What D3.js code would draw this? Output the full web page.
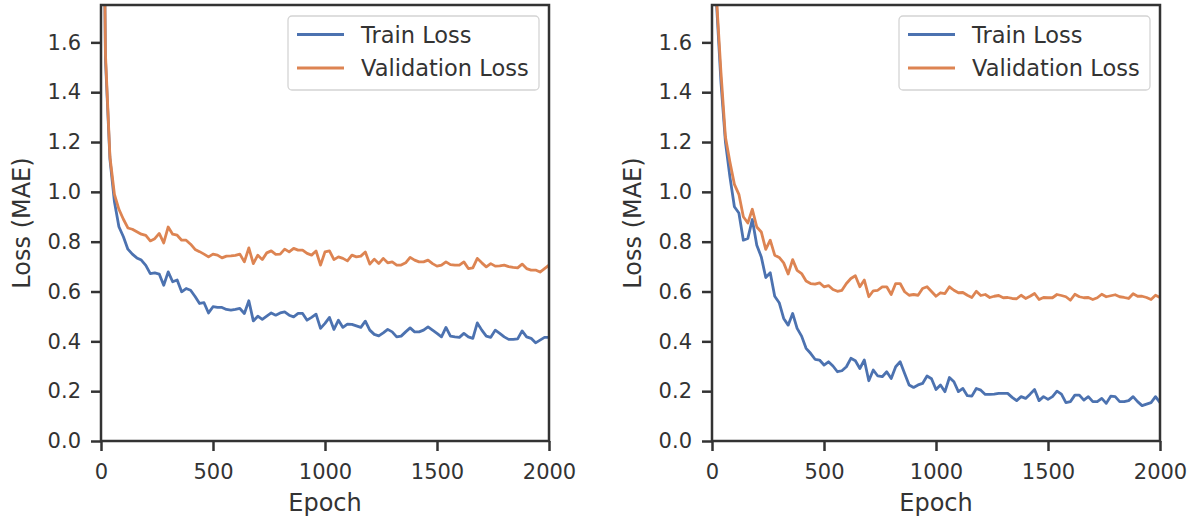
<!DOCTYPE html>
<html>
<head>
<meta charset="utf-8">
<script src="https://cdn.jsdelivr.net/npm/d3@7"></script>
<style>
body { margin: 0; background: #fff; }
svg { font-family: "DejaVu Sans", sans-serif; }
</style>
</head>
<body>
<div id="chart"></div>
<script>
// one logged point every 20 epochs, 0..2000
var epochStep = 20;

var leftTrain = [3.2, 1.53, 1.13, 0.96, 0.86, 0.82, 0.77, 0.75, 0.735, 0.726,
	0.705, 0.672, 0.675, 0.67, 0.625, 0.679, 0.639, 0.646, 0.599, 0.612,
	0.605, 0.58, 0.552, 0.555, 0.514, 0.539, 0.536, 0.536, 0.528, 0.525,
	0.528, 0.532, 0.512, 0.563, 0.482, 0.501, 0.488, 0.501, 0.514, 0.505,
	0.514, 0.518, 0.505, 0.498, 0.512, 0.512, 0.485, 0.496, 0.509, 0.452,
	0.472, 0.496, 0.448, 0.485, 0.456, 0.469, 0.468, 0.462, 0.456, 0.481,
	0.445, 0.428, 0.422, 0.434, 0.448, 0.438, 0.418, 0.421, 0.438, 0.454,
	0.438, 0.438, 0.445, 0.458, 0.445, 0.432, 0.418, 0.456, 0.421, 0.418,
	0.416, 0.432, 0.418, 0.412, 0.474, 0.445, 0.421, 0.416, 0.445, 0.432,
	0.418, 0.408, 0.408, 0.41, 0.442, 0.418, 0.412, 0.394, 0.405, 0.416,
	0.416];

var leftVal = [3.2, 1.55, 1.14, 0.99, 0.93, 0.89, 0.855, 0.85, 0.84, 0.83,
	0.825, 0.803, 0.812, 0.833, 0.795, 0.859, 0.83, 0.826, 0.806, 0.806,
	0.79, 0.769, 0.76, 0.75, 0.739, 0.75, 0.746, 0.735, 0.742, 0.743,
	0.745, 0.75, 0.719, 0.775, 0.712, 0.746, 0.728, 0.755, 0.763, 0.749,
	0.75, 0.77, 0.759, 0.773, 0.766, 0.766, 0.753, 0.746, 0.763, 0.706,
	0.759, 0.763, 0.728, 0.739, 0.733, 0.723, 0.746, 0.739, 0.742, 0.759,
	0.71, 0.73, 0.712, 0.733, 0.715, 0.719, 0.706, 0.706, 0.715, 0.737,
	0.726, 0.719, 0.719, 0.726, 0.712, 0.702, 0.706, 0.719, 0.708, 0.706,
	0.706, 0.719, 0.692, 0.695, 0.733, 0.715, 0.699, 0.712, 0.702, 0.703,
	0.706, 0.70, 0.697, 0.695, 0.71, 0.692, 0.686, 0.686, 0.678, 0.692,
	0.706];

var rightTrain = [2.6, 1.76, 1.44, 1.2, 1.06, 0.94, 0.915, 0.806, 0.813, 0.889,
	0.786, 0.739, 0.656, 0.675, 0.581, 0.555, 0.492, 0.465, 0.512, 0.452,
	0.421, 0.372, 0.352, 0.328, 0.325, 0.305, 0.318, 0.301, 0.278, 0.282,
	0.298, 0.332, 0.322, 0.291, 0.325, 0.242, 0.285, 0.261, 0.258, 0.278,
	0.251, 0.298, 0.318, 0.271, 0.225, 0.215, 0.225, 0.231, 0.261, 0.25,
	0.207, 0.225, 0.198, 0.255, 0.238, 0.198, 0.211, 0.182, 0.18, 0.211,
	0.204, 0.187, 0.187, 0.188, 0.191, 0.191, 0.191, 0.175, 0.162, 0.178,
	0.171, 0.188, 0.207, 0.162, 0.178, 0.167, 0.178, 0.2, 0.188, 0.154,
	0.158, 0.184, 0.184, 0.164, 0.178, 0.158, 0.158, 0.171, 0.151, 0.18,
	0.178, 0.158, 0.158, 0.162, 0.178, 0.158, 0.142, 0.148, 0.154, 0.178,
	0.154];

var rightVal = [2.6, 1.78, 1.48, 1.22, 1.12, 1.03, 0.99, 0.90, 0.875, 0.93,
	0.859, 0.839, 0.769, 0.806, 0.746, 0.737, 0.715, 0.67, 0.728, 0.685,
	0.672, 0.642, 0.632, 0.63, 0.635, 0.619, 0.624, 0.608, 0.601, 0.605,
	0.632, 0.652, 0.663, 0.619, 0.646, 0.579, 0.603, 0.605, 0.619, 0.619,
	0.588, 0.632, 0.632, 0.599, 0.585, 0.588, 0.585, 0.612, 0.619, 0.60,
	0.581, 0.595, 0.592, 0.619, 0.605, 0.595, 0.596, 0.585, 0.576, 0.601,
	0.584, 0.588, 0.576, 0.581, 0.584, 0.575, 0.576, 0.572, 0.571, 0.585,
	0.572, 0.581, 0.592, 0.568, 0.576, 0.575, 0.575, 0.588, 0.584, 0.579,
	0.565, 0.589, 0.579, 0.575, 0.576, 0.568, 0.575, 0.589, 0.579, 0.583,
	0.587, 0.579, 0.576, 0.572, 0.591, 0.581, 0.581, 0.576, 0.568, 0.585,
	0.576];

var xTicks = [0, 500, 1000, 1500, 2000];
var yTicks = [0, 0.2, 0.4, 0.6, 0.8, 1.0, 1.2, 1.4, 1.6];
var seriesNames = ["Train Loss", "Validation Loss"];
var seriesColors = ["#4c72b0", "#dd8452"];

var ink = "#333333";

var svg = d3.select("#chart")
	.append("svg")
	.attr("width", 1195)
	.attr("height", 524);

function drawPanel(id, left, train, val) {
	var plotW = 448, top = 5, bottom = 441;

	var x = d3.scaleLinear().domain([0, 2000]).range([left, left + plotW]);
	var y = d3.scaleLinear().domain([0, 1.75]).range([bottom, top]);

	var g = svg.append("g").attr("id", id);

	g.append("clipPath")
		.attr("id", id + "clip")
		.append("rect")
		.attr("x", left).attr("y", top)
		.attr("width", plotW).attr("height", bottom - top);

	// lines
	var line = d3.line()
		.x(function(d, i) { return x(i * epochStep); })
		.y(function(d) { return y(d); });

	[train, val].forEach(function(data, k) {
		g.append("path")
			.datum(data)
			.attr("clip-path", "url(#" + id + "clip)")
			.attr("fill", "none")
			.attr("stroke", seriesColors[k])
			.attr("stroke-width", 2.8)
			.attr("stroke-linejoin", "round")
			.attr("d", line);
	});

	// axes
	var xAxis = g.append("g")
		.attr("transform", "translate(0," + bottom + ")")
		.call(d3.axisBottom(x).tickValues(xTicks).tickFormat(d3.format("d")).tickSize(10).tickPadding(13));
	var yAxis = g.append("g")
		.attr("transform", "translate(" + left + ",0)")
		.call(d3.axisLeft(y).tickValues(yTicks).tickFormat(d3.format(".1f")).tickSize(10).tickPadding(10));

	[xAxis, yAxis].forEach(function(a) {
		a.select(".domain").remove();
		a.selectAll("line").attr("stroke", ink).attr("stroke-width", 2.5);
		a.selectAll("text")
			.attr("fill", ink)
			.style("font-size", "21px")
			.style("font-family", "DejaVu Sans");
	});

	// frame (all four spines)
	g.append("rect")
		.attr("x", left).attr("y", top)
		.attr("width", plotW).attr("height", bottom - top)
		.attr("fill", "none")
		.attr("stroke", ink)
		.attr("stroke-width", 2.5);

	// axis labels
	g.append("text")
		.attr("x", left + plotW / 2)
		.attr("y", 511)
		.attr("text-anchor", "middle")
		.attr("fill", ink)
		.style("font-size", "24px")
		.text("Epoch");
	g.append("text")
		.attr("transform", "translate(" + (left - 71.5) + "," + ((top + bottom) / 2) + ") rotate(-90)")
		.attr("text-anchor", "middle")
		.attr("fill", ink)
		.style("font-size", "24px")
		.text("Loss (MAE)");

	// legend
	var leg = g.append("g").attr("transform", "translate(" + (left + 187) + ",16)");
	leg.append("rect")
		.attr("width", 251).attr("height", 74)
		.attr("rx", 4)
		.attr("fill", "#fff").attr("fill-opacity", 0.8)
		.attr("stroke", "#d4d4d4").attr("stroke-width", 1.3);
	seriesNames.forEach(function(name, k) {
		var ly = 18.5 + k * 33.5;
		leg.append("line")
			.attr("x1", 9).attr("x2", 56)
			.attr("y1", ly).attr("y2", ly)
			.attr("stroke", seriesColors[k])
			.attr("stroke-width", 2.8);
		leg.append("text")
			.attr("x", 73).attr("y", ly)
			.attr("dy", "0.36em")
			.attr("fill", ink)
			.style("font-size", "22.5px")
			.text(name);
	});
}

drawPanel("left", 101, leftTrain, leftVal);
drawPanel("right", 712, rightTrain, rightVal);
</script>
</body>
</html>
